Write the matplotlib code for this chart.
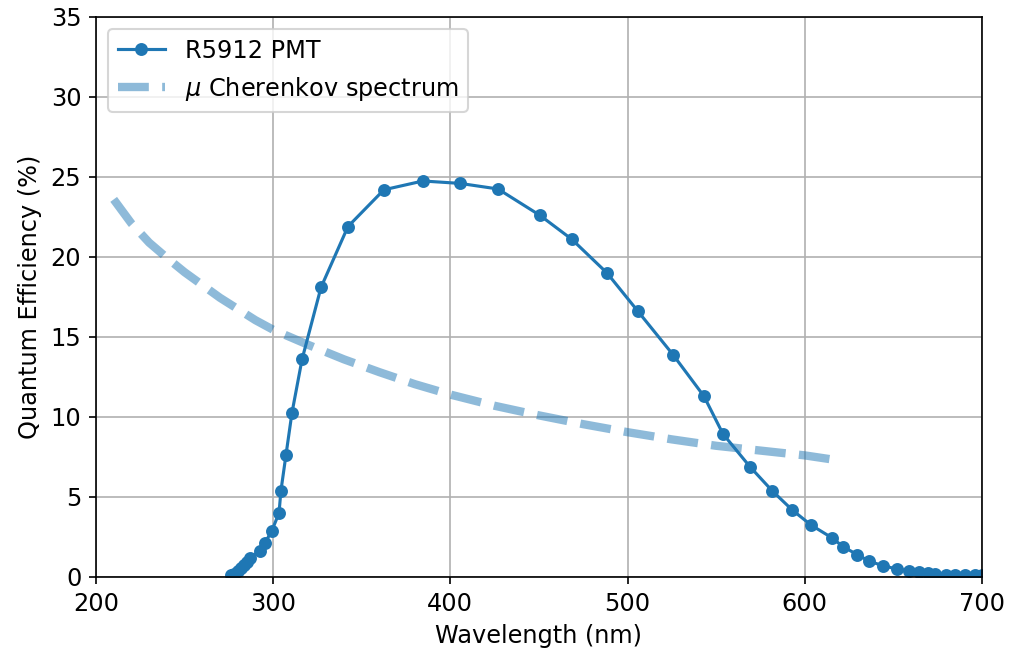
import matplotlib
matplotlib.use("Agg")
import matplotlib.pyplot as plt

# R5912 PMT quantum efficiency
pmt_wl = [276, 278, 280, 282, 283.3, 285, 287, 292.5, 295.5, 299.3, 303.3, 304.4,
          307.2, 310.6, 316.3, 327, 342.2, 362.5, 384.5, 405.4, 426.9, 450.6, 468.6,
          488.4, 505.9, 525.6, 543.1, 553.8, 569, 581.5, 592.8, 603.5, 615.3, 621.6,
          629.5, 636.2, 644.1, 652, 658.8, 664.4, 669.5, 673.5, 679.7, 684.8, 690.4,
          696, 700]
pmt_qe = [0.1, 0.2, 0.35, 0.55, 0.75, 0.95, 1.17, 1.65, 2.15, 2.9, 4.0, 5.4,
          7.6, 10.25, 13.6, 18.1, 21.9, 24.2, 24.75, 24.6, 24.25, 22.6, 21.1,
          19.0, 16.6, 13.9, 11.3, 8.95, 6.9, 5.4, 4.2, 3.25, 2.45, 1.9,
          1.4, 1.0, 0.7, 0.5, 0.37, 0.3, 0.25, 0.2, 0.13, 0.1, 0.1,
          0.1, 0.1]

# muon Cherenkov spectrum (arbitrary scale)
ch_wl = [210, 220, 230, 240, 250, 260, 270, 280, 290, 300, 320, 340, 360, 380,
         400, 425, 450, 475, 500, 525, 550, 575, 600, 620]
ch_val = [23.6, 22.1, 20.9, 19.95, 19.05, 18.25, 17.45, 16.75, 16.05, 15.45, 14.5,
          13.6, 12.8, 12.05, 11.4, 10.7, 10.1, 9.55, 9.05, 8.6, 8.2, 7.9, 7.6, 7.27]

plt.rcParams["font.size"] = 11.5

fig = plt.figure(figsize=(1009 / 150, 651 / 150), dpi=150)
ax = fig.add_axes([0.0951, 0.1137, 0.8781, 0.8602])

ax.plot(pmt_wl, pmt_qe, "-o", color="C0", markersize=5.2, label="R5912 PMT")
ax.plot(ch_wl, ch_val, "--", color="C0", alpha=0.5, linewidth=4,
        label=r"$\mu$ Cherenkov spectrum")

ax.set_xlim(200, 700)
ax.set_ylim(0, 35)
ax.set_xlabel("Wavelength (nm)")
ax.set_ylabel("Quantum Efficiency (%)")
ax.grid(True)
ax.legend(loc="upper left")

fig.savefig("out.png", dpi=150)
